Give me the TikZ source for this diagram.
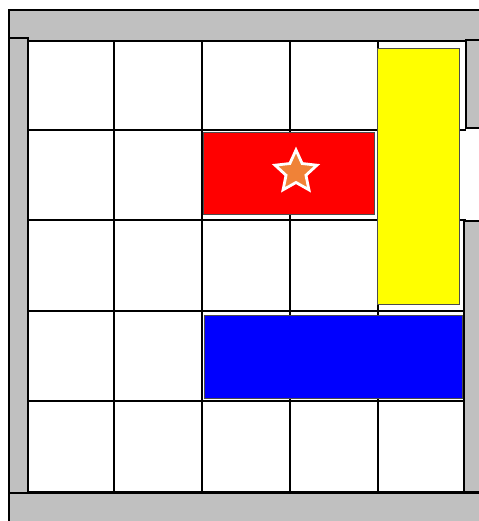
\documentclass[tikz,border=0pt]{standalone}
\usepackage{tikz}
\usetikzlibrary{shapes.geometric}
\definecolor{WallGray}{RGB}{192, 192, 192}
\definecolor{StarOrange}{RGB}{240, 130, 55}
\definecolor{CarYellow}{RGB}{255, 255, 0}

\begin{document}
\begin{tikzpicture}[
    x=0.02cm, y=-0.02cm,
    wall/.style={draw=black, fill=WallGray, line width=0.9pt},
    gridline/.style={draw=black, line width=1.1pt},
    car/.style={draw=black!70, line width=0.4pt}
]
\useasboundingbox (0,0) rectangle (479,521);
\fill[white] (0,0) rectangle (479,521);

% grid cells
\foreach \gx in {27,114,202,290,378}
    \draw[gridline] (\gx,41) -- (\gx,492);
\foreach \gy in {41,130,220,311,401,492}
    \draw[gridline] (27,\gy) -- (466,\gy);

% board walls
\draw[wall] (9,10) rectangle (485,41);
\draw[wall] (9,38) rectangle (28,493);
\draw[wall] (9,493) rectangle (485,530);
\draw[wall] (466,40) rectangle (485,128);
\draw[wall] (464,221) rectangle (485,492);

% cars
\draw[car, fill=CarYellow] (377,48) rectangle (459,304);
\draw[car, fill=red] (203,132) rectangle (374,214);
\draw[car, fill=blue] (204,315) rectangle (462,398);

\node[star, star points=5, star point ratio=2.1, minimum size=0.88cm,
      fill=StarOrange, draw=white, line width=1.6pt, inner sep=0pt]
      (target) at (296,172) {};
\end{tikzpicture}
\end{document}
